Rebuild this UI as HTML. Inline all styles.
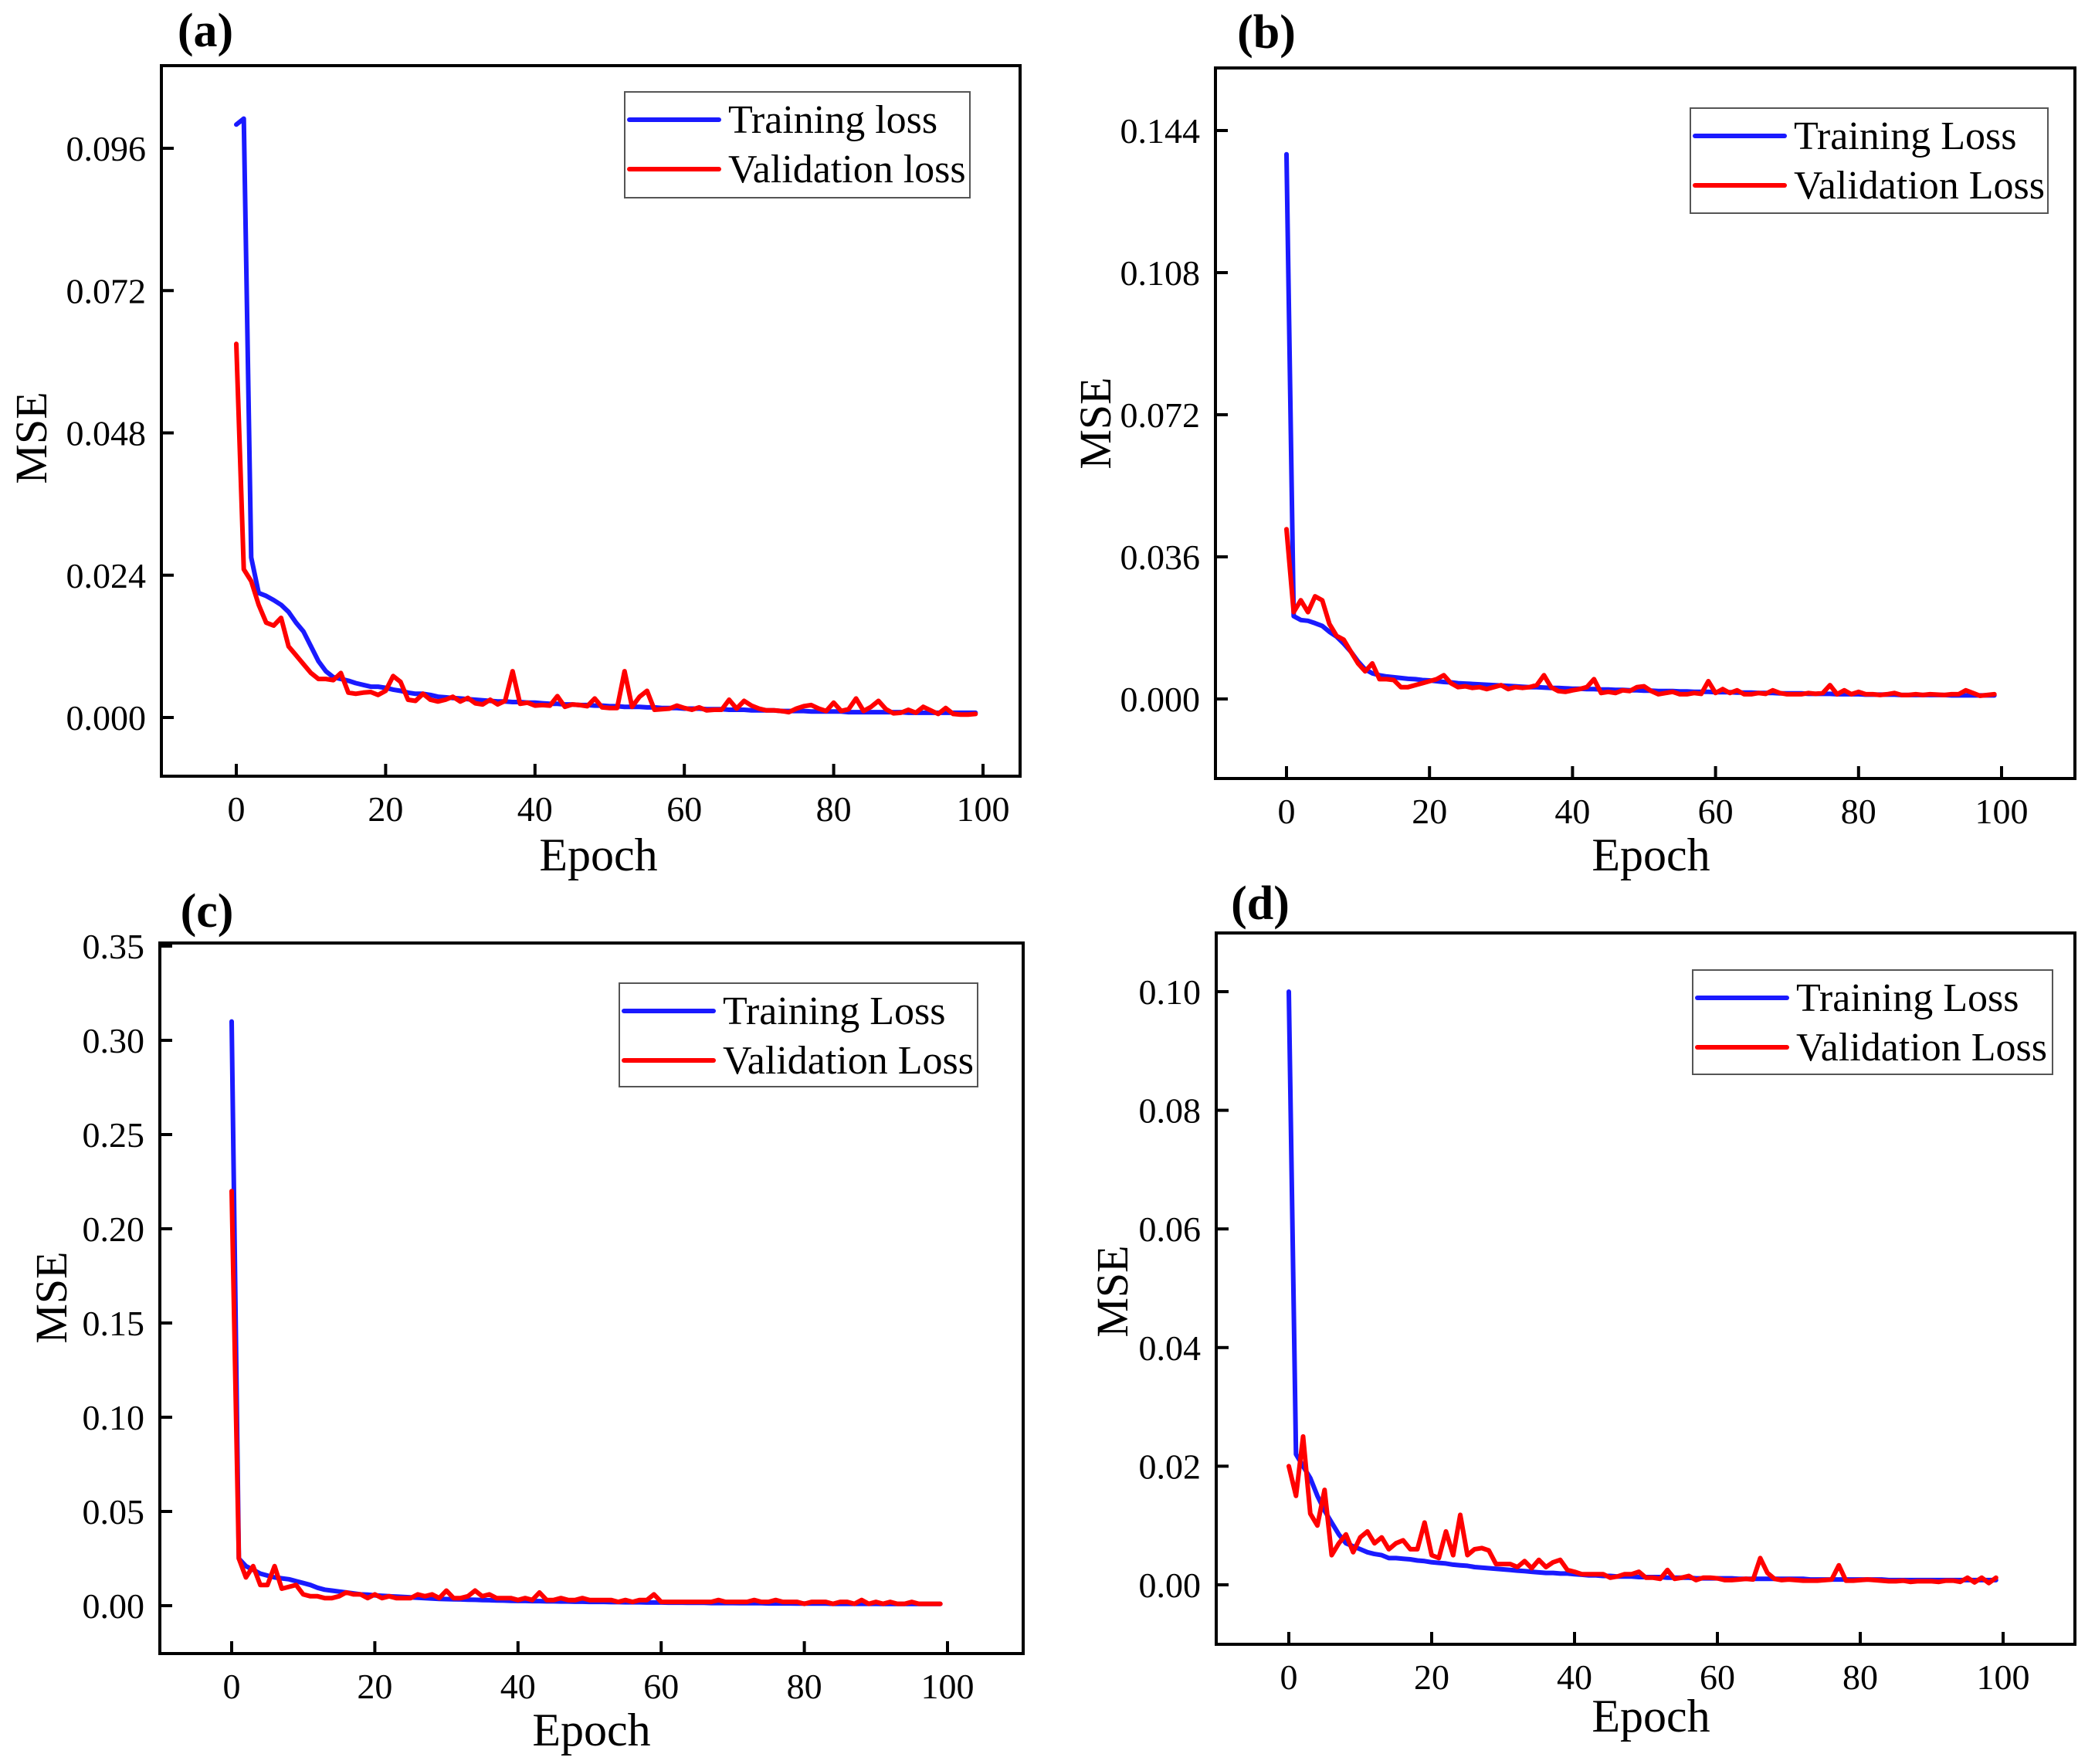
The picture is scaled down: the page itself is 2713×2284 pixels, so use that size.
<!DOCTYPE html>
<html><head><meta charset="utf-8">
<style>
html,body{margin:0;padding:0;background:#fff;}
svg{display:block;font-family:"Liberation Serif","Times New Roman",serif;}
</style></head>
<body>
<svg id="fig" width="2713" height="2284" viewBox="0 0 2713 2284" xmlns="http://www.w3.org/2000/svg"></svg>
<script>
// ---- data ----
const epochs = Array.from({length:100},(_,i)=>i);
const xTicks = [0,20,40,60,80,100];

const aTrain = [.100,.101,.027,.021,.0205,.0198,.019,.0178,.016,.0145,
.012,.0095,.0078,.0068,.0065,.0062,.0058,.0055,.0052,.0052,
.0050,.0047,.0045,.0042,.0040,.0040,.0038,.0035,.0034,.0033,
.0032,.0031,.0030,.0029,.0028,.0027,.0027,.0026,.0026,.0025,
.0025,.0024,.0023,.0023,.0022,.0022,.0021,.0021,.0020,.0020,
.0019,.0019,.0018,.0018,.0018,.0017,.0017,.0016,.0016,.0016,
.0015,.0015,.0015,.0014,.0014,.0014,.0013,.0013,.0013,.0012,
.0012,.0012,.0012,.0011,.0011,.0011,.0011,.0010,.0010,.0010,
.0010,.0010,.0009,.0009,.0009,.0009,.0009,.0009,.0009,.0009,
.0008,.0008,.0008,.0008,.0008,.0008,.0008,.0008,.0008,.0008];
const aVal = [.063,.025,.023,.019,.016,.0155,.0168,.012,.0105,.009,
.0075,.0065,.0065,.0063,.0075,.0042,.004,.0042,.0043,.0038,
.0045,.007,.006,.003,.0028,.004,.003,.0027,.003,.0035,
.0027,.0033,.0024,.0022,.003,.0022,.0028,.0078,.0023,.0025,
.002,.0021,.002,.0036,.0018,.0022,.0021,.0019,.0032,.0017,
.0016,.0016,.0078,.0018,.0035,.0045,.0013,.0014,.0015,.002,
.0016,.0013,.0017,.0012,.0013,.0013,.003,.0015,.0028,.002,
.0015,.0012,.0012,.0011,.0009,.0015,.0019,.0021,.0015,.0011,
.0025,.0011,.0014,.0032,.0011,.0018,.0028,.0014,.0007,.0008,
.0013,.0008,.0018,.0012,.0006,.0016,.0006,.0005,.0005,.0006];
const aTickVals = [0,0.024,0.048,0.072,0.096];
const aTickLabels = ["0.000","0.024","0.048","0.072","0.096"];

const bTrain = [.138,.021,.020,.0198,.0192,.0185,.017,.0158,.014,.012,
.0095,.0075,.0065,.006,.0057,.0055,.0053,.0051,.005,.0048,
.0047,.0045,.0043,.0042,.004,.0039,.0038,.0037,.0036,.0035,
.0034,.0033,.0032,.0031,.003,.003,.0029,.0028,.0028,.0027,
.0026,.0026,.0025,.0025,.0024,.0024,.0023,.0023,.0022,.0022,
.0021,.0021,.0020,.0020,.0020,.0019,.0019,.0018,.0018,.0018,
.0017,.0017,.0017,.0016,.0016,.0016,.0015,.0015,.0015,.0014,
.0014,.0014,.0014,.0013,.0013,.0013,.0013,.0012,.0012,.0012,
.0012,.0011,.0011,.0011,.0011,.0011,.0010,.0010,.0010,.0010,
.0010,.0010,.0010,.0009,.0009,.0009,.0009,.0009,.0009,.0009];
const bVal = [.043,.022,.025,.022,.026,.025,.019,.016,.015,.012,
.009,.007,.009,.005,.005,.0048,.003,.003,.0035,.004,
.0045,.005,.006,.004,.003,.0032,.0028,.003,.0025,.003,
.0035,.0025,.003,.0028,.003,.0035,.006,.003,.002,.0018,
.0022,.0025,.003,.005,.0015,.0018,.0015,.0022,.002,.003,
.0032,.002,.0012,.0015,.0018,.0012,.0012,.0015,.0013,.0045,
.0015,.0025,.0015,.0022,.0012,.0012,.0015,.0013,.0022,.0015,
.0012,.0012,.0012,.0015,.0013,.0015,.0035,.0012,.0022,.0012,
.0018,.0012,.0012,.001,.0012,.0015,.001,.001,.0012,.001,
.0012,.0011,.001,.0012,.0012,.0022,.0015,.0008,.001,.0012];
const bTickVals = [0,0.036,0.072,0.108,0.144];
const bTickLabels = ["0.000","0.036","0.072","0.108","0.144"];

const cTrain = [.31,.025,.021,.019,.017,.016,.015,.0145,.014,.013,
.012,.011,.0095,.0085,.008,.0075,.007,.0065,.006,.0058,
.0055,.0052,.005,.0048,.0046,.0044,.0042,.004,.0038,.0036,
.0035,.0034,.0033,.0032,.0031,.003,.0029,.0028,.0027,.0026,
.0025,.0025,.0024,.0024,.0023,.0023,.0022,.0022,.0021,.0021,
.002,.002,.002,.0019,.0019,.0018,.0018,.0018,.0017,.0017,
.0017,.0016,.0016,.0016,.0015,.0015,.0015,.0014,.0014,.0014,
.0014,.0013,.0013,.0013,.0013,.0012,.0012,.0012,.0012,.0011,
.0011,.0011,.0011,.0011,.001,.001,.001,.001,.001,.001,
.001,.0009,.0009,.0009,.0009,.0009,.0009,.0009,.0009,.0009];
const cVal = [.22,.025,.015,.021,.011,.011,.021,.009,.01,.011,
.006,.005,.005,.004,.004,.005,.007,.006,.006,.004,
.006,.004,.005,.004,.004,.004,.006,.005,.006,.004,
.008,.004,.004,.005,.008,.005,.006,.004,.004,.004,
.003,.004,.003,.007,.003,.003,.004,.003,.003,.004,
.003,.003,.003,.003,.002,.003,.002,.003,.003,.006,
.002,.002,.002,.002,.002,.002,.002,.002,.003,.002,
.002,.002,.002,.003,.002,.002,.003,.002,.002,.002,
.001,.002,.002,.002,.001,.002,.002,.001,.003,.001,
.002,.001,.002,.001,.001,.002,.001,.001,.001,.001];
const cTickVals = [0,0.05,0.10,0.15,0.20,0.25,0.30,0.35];
const cTickLabels = ["0.00","0.05","0.10","0.15","0.20","0.25","0.30","0.35"];

const dTrain = [.100,.022,.020,.018,.015,.0125,.0105,.0085,.007,.0065,
.006,.0055,.0052,.005,.0045,.0045,.0044,.0043,.0041,.004,
.0038,.0037,.0036,.0034,.0033,.0032,.003,.0029,.0028,.0027,
.0026,.0025,.0024,.0023,.0022,.0021,.002,.002,.0019,.0019,
.0018,.0017,.0016,.0016,.0015,.0015,.0014,.0014,.0014,.0013,
.0013,.0013,.0013,.0012,.0012,.0012,.0012,.0011,.0011,.0011,
.0011,.0011,.0011,.001,.001,.001,.001,.001,.001,.001,
.001,.001,.001,.0009,.0009,.0009,.0009,.0009,.0009,.0009,
.0009,.0009,.0009,.0009,.0008,.0008,.0008,.0008,.0008,.0008,
.0008,.0008,.0008,.0008,.0008,.0008,.0008,.0008,.0008,.0008];
const dVal = [.020,.015,.025,.012,.010,.016,.005,.007,.0085,.0055,
.008,.009,.007,.008,.006,.007,.0075,.006,.006,.0105,
.005,.0045,.009,.005,.0118,.005,.006,.0062,.0058,.0035,
.0035,.0035,.003,.004,.0028,.0042,.003,.0038,.0042,.0025,
.0022,.0018,.0018,.0018,.0018,.0012,.0014,.0018,.0018,.0022,
.0012,.0012,.001,.0025,.001,.0012,.0015,.0008,.0012,.0012,
.0011,.0008,.0008,.0009,.001,.0009,.0045,.002,.001,.0008,
.0009,.0008,.0007,.0007,.0007,.0008,.0009,.0033,.0007,.0007,
.0008,.0009,.0008,.0007,.0006,.0006,.0007,.0005,.0006,.0006,
.0006,.0005,.0007,.0007,.0005,.0012,.0004,.0012,.0003,.0012];
const dTickVals = [0,0.02,0.04,0.06,0.08,0.10];
const dTickLabels = ["0.00","0.02","0.04","0.06","0.08","0.10"];

// ---- drawing ----
const NS="http://www.w3.org/2000/svg";
const svg=document.getElementById('fig');
function el(tag,attrs,parent){const e=document.createElementNS(NS,tag);for(const k in attrs)e.setAttribute(k,attrs[k]);(parent||svg).appendChild(e);return e;}

const panels=[
 {id:'a',label:'(a)',lx:266,ly:48,box:[209,85,1321,1005],x0:306,x100:1273,yv0:0,yp0:929,yv1:0.096,yp1:192,
  ticks:aTickVals,tl:aTickLabels,train:aTrain,val:aVal,names:["Training loss","Validation loss"],
  leg:[809,119,447,137],msex:40,msey:567,epx:775,epy:1107},
 {id:'b',label:'(b)',lx:1640,ly:50,box:[1574,88,2687,1008],x0:1666,x100:2592,yv0:0,yp0:905,yv1:0.144,yp1:169,
  ticks:bTickVals,tl:bTickLabels,train:bTrain,val:bVal,names:["Training Loss","Validation Loss"],
  leg:[2189,140,463,136],msex:1418,msey:548,epx:2138,epy:1107},
 {id:'c',label:'(c)',lx:268,ly:1188,box:[207,1221,1325,2141],x0:300,x100:1227,yv0:0,yp0:2079,yv1:0.35,yp1:1225,
  ticks:cTickVals,tl:cTickLabels,train:cTrain,val:cVal,names:["Training Loss","Validation Loss"],
  leg:[802,1273,464,134],msex:66,msey:1680,epx:766,epy:2240},
 {id:'d',label:'(d)',lx:1632,ly:1178,box:[1575,1208,2687,2129],x0:1669,x100:2594,yv0:0,yp0:2052,yv1:0.10,yp1:1284,
  ticks:dTickVals,tl:dTickLabels,train:dTrain,val:dVal,names:["Training Loss","Validation Loss"],
  leg:[2192,1256,466,135],msex:1440,msey:1672,epx:2138,epy:2222}
];

panels.forEach(p=>{
  const g=el('g',{});
  
  
  const xs=v=>p.x0+(p.x100-p.x0)*v/100;
  const ys=v=>p.yp0+(p.yp1-p.yp0)*(v-p.yv0)/(p.yv1-p.yv0);
  const [L,T,R,B]=p.box;

  const mk=(arr,color,name)=>{
    const d=arr.map((v,i)=>(i?'L':'M')+xs(epochs[i]).toFixed(1)+','+ys(v).toFixed(1)).join('');
    const path=el('path',{d:d,fill:'none',stroke:color,'stroke-width':6,'stroke-linejoin':'round','stroke-linecap':'round'},g);
    
    
  };
  mk(p.train,'#1a1aff','training-loss-line');
  mk(p.val,'#ff0000','validation-loss-line');

  const fr=el('rect',{x:L,y:T,width:R-L,height:B-T,fill:'none',stroke:'#000','stroke-width':4},g);
  
  

  xTicks.forEach(t=>{
    const x=xs(t);
    el('line',{x1:x,y1:B,x2:x,y2:B-16,stroke:'#000','stroke-width':4},g);
    const tx=el('text',{x:x,y:B+58,'font-size':46,'text-anchor':'middle',fill:'#000'},g);
    tx.textContent=t;
    
    
  });
  p.ticks.forEach((t,i)=>{
    const y=ys(t);
    el('line',{x1:L,y1:y,x2:L+16,y2:y,stroke:'#000','stroke-width':4},g);
    const ty=el('text',{x:L-20,y:y+16,'font-size':46,'text-anchor':'end',fill:'#000'},g);
    ty.textContent=p.tl[i];
    
    
  });

  const ex=el('text',{x:p.epx,y:p.epy+20,'font-size':60,'text-anchor':'middle',fill:'#000'},g);
  ex.textContent='Epoch';
  
  
  const my=el('text',{x:p.msex,y:p.msey,'font-size':58,'text-anchor':'middle',fill:'#000',transform:`rotate(-90 ${p.msex} ${p.msey}) translate(0 20)`},g);
  my.textContent='MSE';
  
  

  const pl=el('text',{x:p.lx,y:p.ly+12,'font-size':62,'font-weight':'bold','text-anchor':'middle',fill:'#000'},g);
  pl.textContent=p.label;
  
  

  const [gx,gy,gw,gh]=p.leg;
  const lg=el('g',{},g);
  
  
  el('rect',{x:gx,y:gy,width:gw,height:gh,fill:'#fff',stroke:'#555','stroke-width':2},lg);
  [['#1a1aff',p.names[0],36],['#ff0000',p.names[1],100]].forEach(([c,n,dy])=>{
    const ln=el('line',{x1:gx+6,y1:gy+dy,x2:gx+122,y2:gy+dy,stroke:c,'stroke-width':6,'stroke-linecap':'round'},lg);
    
    
    const t=el('text',{x:gx+134,y:gy+dy+17,'font-size':52,fill:'#000'},lg);
    t.textContent=n;
    
    
  });
});
</script>
</body></html>
